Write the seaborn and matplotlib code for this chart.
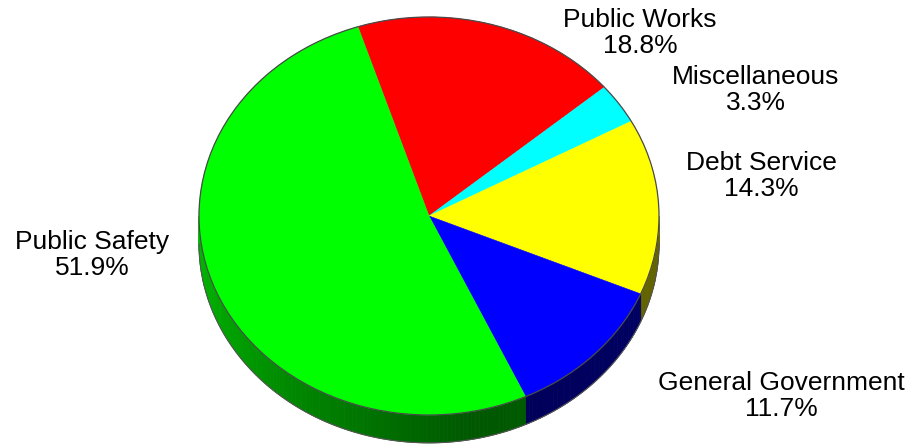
import numpy as np
import matplotlib
matplotlib.use("Agg")
import matplotlib.pyplot as plt
import seaborn as sns
from matplotlib.patches import Polygon, Circle

# Budget shares by function (percent), in clockwise order from the top
categories = ["Public Works", "Miscellaneous", "Debt Service",
              "General Government", "Public Safety"]
shares = [18.8, 3.3, 14.3, 11.7, 51.9]
top_colors = ["#ff0000", "#00ffff", "#ffff00", "#0000ff", "#00ff00"]

# Label anchor positions in pixels (x from left, y from top)
label_px = [(640, 33), (756, 90), (761, 176), (781, 396), (92, 255)]

sns.set_theme(style="white")
plt.rcParams["font.family"] = ["Liberation Sans", "DejaVu Sans"]

W, H = 909, 446
fig = plt.figure(figsize=(W / 100, H / 100), dpi=100)
ax = fig.add_axes([0, 0, 1, 1])

# Ellipse geometry of the pie top (pixels)
cx, cy = 429, 216
rx, ry = 230, 199
depth = 0.14  # thickness in vertical radius units

wedges, _ = ax.pie(shares, colors=top_colors, startangle=108,
                   counterclock=False, radius=1.0, center=(0, 0),
                   wedgeprops=dict(linewidth=0.4))
for w, col in zip(wedges, top_colors):
    w.set_edgecolor(col)
    w.set_zorder(3)

# Dark rim around the top face
ax.add_patch(Circle((0, 0), 1.0, fill=False, edgecolor="#4a4a4a",
                    linewidth=0.9, zorder=4))

# Stretch the unit-circle pie into the tilted ellipse
ax.set_aspect("auto")
ax.set_xlim(-cx / rx, (W - cx) / rx)
ax.set_ylim(-(H - cy) / ry, cy / ry)
ax.set_axis_off()


def side_shade(theta_deg):
    # lighter on the left rim, darker toward the front and right
    t = (theta_deg - 180.0) / 180.0
    return 0.75 - 0.40 * np.clip(t * 1.8, 0, 1) + 0.05 * np.clip((t - 0.6) * 2.5, 0, 1)


def rgb(c):
    return np.array(matplotlib.colors.to_rgb(c))


# Visible side band of each wedge (front half, 180..360 degrees)
for w, col in zip(wedges, top_colors):
    t1, t2 = w.theta1, w.theta2
    for shift in (-360, 0, 360):
        a = max(t1 + shift, 180.0)
        b = min(t2 + shift, 360.0)
        if b <= a:
            continue
        steps = max(2, int((b - a) / 1.0) + 1)
        angs = np.linspace(a, b, steps)
        base = rgb(col)
        for a0, a1 in zip(angs[:-1], angs[1:]):
            r0, r1 = np.radians(a0), np.radians(a1)
            pts = [(np.cos(r0), np.sin(r0)), (np.cos(r1), np.sin(r1)),
                   (np.cos(r1), np.sin(r1) - depth), (np.cos(r0), np.sin(r0) - depth)]
            shade = base * side_shade(0.5 * (a0 + a1))
            ax.add_patch(Polygon(pts, closed=True, facecolor=shade,
                                 edgecolor=shade, linewidth=0.6, zorder=1))
        # soft outline along the bottom rim
        rr = np.radians(angs)
        ax.plot(np.cos(rr), np.sin(rr) - depth, color="#555555", lw=0.8, zorder=2)

# Category labels with their percentages
for name, val, (px, py) in zip(categories, shares, label_px):
    ax.text(px / W, 1 - py / H, f"{name}\n{val:.1f}%", transform=ax.transAxes,
            ha="center", va="center", fontsize=19, color="black",
            linespacing=1.15, zorder=5)

fig.savefig("out.png", dpi=100, facecolor="white")
